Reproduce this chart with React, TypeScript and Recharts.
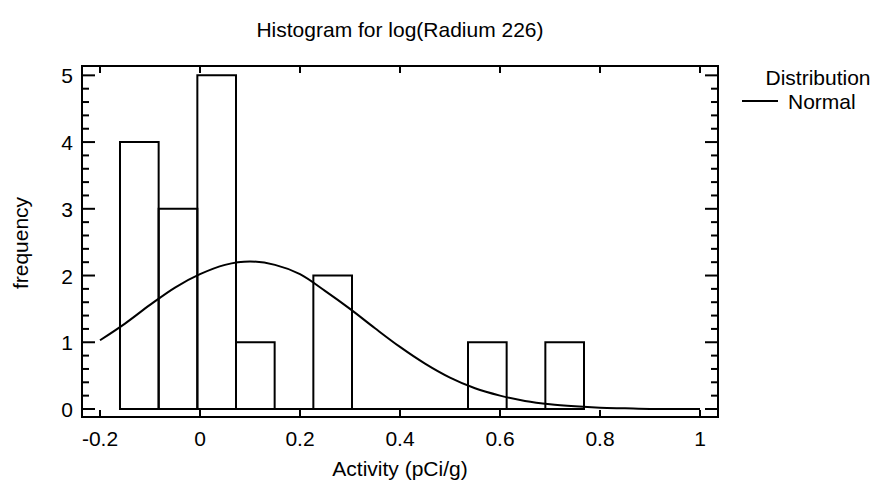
import React from 'react';
import { ComposedChart, Line, XAxis, YAxis, ReferenceArea, ReferenceLine } from 'recharts';

// histogram bins (edges in data units) and counts
const binEdges = [-0.16, -0.0827, -0.0053, 0.072, 0.1493, 0.2267, 0.304, 0.3813, 0.4587, 0.536, 0.6133, 0.6907, 0.768];
const binCounts = [4, 3, 5, 1, 0, 2, 0, 0, 0, 1, 0, 1];

// fitted normal curve
const curveX = [-0.2, -0.15, -0.1, -0.05, 0, 0.05, 0.1, 0.15, 0.2, 0.25, 0.3, 0.35, 0.4, 0.45, 0.5, 0.55, 0.6, 0.65, 0.7, 0.75, 0.8, 0.85, 0.9, 0.95, 1];
const curveY = [1.03, 1.28, 1.56, 1.82, 2.02, 2.16, 2.21, 2.16, 2.02, 1.77, 1.5, 1.21, 0.93, 0.68, 0.47, 0.31, 0.2, 0.12, 0.07, 0.04, 0.02, 0.01, 0, 0, 0];

const xTicks = [-0.2, 0, 0.2, 0.4, 0.6, 0.8, 1];
const yTicks = [0, 0.2, 0.4, 0.6, 0.8, 1, 1.2, 1.4, 1.6, 1.8, 2, 2.2, 2.4, 2.6, 2.8, 3, 3.2, 3.4, 3.6, 3.8, 4, 4.2, 4.4, 4.6, 4.8, 5];

const FONT = "'Liberation Sans', Arial, Helvetica, sans-serif";
const FS = 21;

const curveData = curveX.map((x, i) => ({ x, y: curveY[i] }));

const BottomTick = (props: any) => {
    const { x, y, payload } = props;
    return (
        <g>
            <line x1={x} y1={y} x2={x} y2={y - 7} stroke="#000" strokeWidth={2} />
            <text x={x} y={y + 29} textAnchor="middle" fontSize={FS} fontFamily={FONT} fill="#000">
                {payload.value}
            </text>
        </g>
    );
};

const TopTick = (props: any) => {
    const { x, y } = props;
    return <line x1={x} y1={y} x2={x} y2={y + 7} stroke="#000" strokeWidth={2} />;
};

const LeftTick = (props: any) => {
    const { x, y, payload } = props;
    const major = Number.isInteger(payload.value);
    return (
        <g>
            <line x1={x} y1={y} x2={x + (major ? 13 : 7)} y2={y} stroke="#000" strokeWidth={2} />
            {major && (
                <text x={x - 9} y={y + 8} textAnchor="end" fontSize={FS} fontFamily={FONT} fill="#000">
                    {payload.value}
                </text>
            )}
        </g>
    );
};

const RightTick = (props: any) => {
    const { x, y, payload } = props;
    const major = Number.isInteger(payload.value);
    return <line x1={x} y1={y} x2={x - (major ? 13 : 7)} y2={y} stroke="#000" strokeWidth={2} />;
};

const axisLine = { stroke: '#000', strokeWidth: 2, strokeLinecap: 'square' as const };

export default function App() {
    return (
        <div style={{ position: 'absolute', left: 0, top: 0, width: 880, height: 489, background: '#fff' }}>
            <ComposedChart
                width={880}
                height={489}
                data={curveData}
                margin={{ top: 56, right: 152, bottom: 32, left: 22 }}
            >
                <XAxis
                    dataKey="x"
                    type="number"
                    domain={[-0.236, 1.036]}
                    allowDataOverflow
                    ticks={xTicks}
                    interval={0}
                    height={40}
                    tickSize={0}
                    tickMargin={0}
                    tickLine={false}
                    axisLine={axisLine}
                    tick={<BottomTick />}
                />
                <XAxis
                    xAxisId="top"
                    orientation="top"
                    dataKey="x"
                    type="number"
                    domain={[-0.236, 1.036]}
                    allowDataOverflow
                    ticks={xTicks}
                    interval={0}
                    height={10}
                    tickSize={0}
                    tickMargin={0}
                    tickLine={false}
                    axisLine={axisLine}
                    tick={<TopTick />}
                />
                <YAxis
                    type="number"
                    domain={[-0.12, 5.14]}
                    allowDataOverflow
                    ticks={yTicks}
                    interval={0}
                    width={60}
                    tickSize={0}
                    tickMargin={0}
                    tickLine={false}
                    axisLine={axisLine}
                    tick={<LeftTick />}
                />
                <YAxis
                    yAxisId="right"
                    orientation="right"
                    type="number"
                    domain={[-0.12, 5.14]}
                    allowDataOverflow
                    ticks={yTicks}
                    interval={0}
                    width={10}
                    tickSize={0}
                    tickMargin={0}
                    tickLine={false}
                    axisLine={axisLine}
                    tick={<RightTick />}
                />
                {binCounts.map((c, i) =>
                    c > 0 ? (
                        <ReferenceArea
                            key={i}
                            x1={binEdges[i]}
                            x2={binEdges[i + 1]}
                            y1={0}
                            y2={c}
                            fill="none"
                            stroke="#000"
                            strokeWidth={2}
                        />
                    ) : null
                )}
                <ReferenceLine
                    segment={[
                        { x: binEdges[0], y: 0 },
                        { x: binEdges[binEdges.length - 1], y: 0 },
                    ]}
                    stroke="#000"
                    strokeWidth={2}
                />
                <Line
                    dataKey="y"
                    type="monotone"
                    stroke="#000"
                    strokeWidth={2}
                    dot={false}
                    activeDot={false}
                    isAnimationActive={false}
                />
            </ComposedChart>
            <svg
                width={880}
                height={489}
                style={{ position: 'absolute', left: 0, top: 0, pointerEvents: 'none' }}
                fontFamily={FONT}
                fontSize={FS}
                fill="#000"
            >
                <text x={400} y={37} textAnchor="middle">Histogram for log(Radium 226)</text>
                <text x={400} y={476} textAnchor="middle">Activity (pCi/g)</text>
                <text x={28} y={243} textAnchor="middle" transform="rotate(-90 28 243)">frequency</text>
                <text x={818} y={85} textAnchor="middle">Distribution</text>
                <line x1={742} y1={101} x2={778} y2={101} stroke="#000" strokeWidth={2} />
                <text x={788} y={109}>Normal</text>
            </svg>
        </div>
    );
}
